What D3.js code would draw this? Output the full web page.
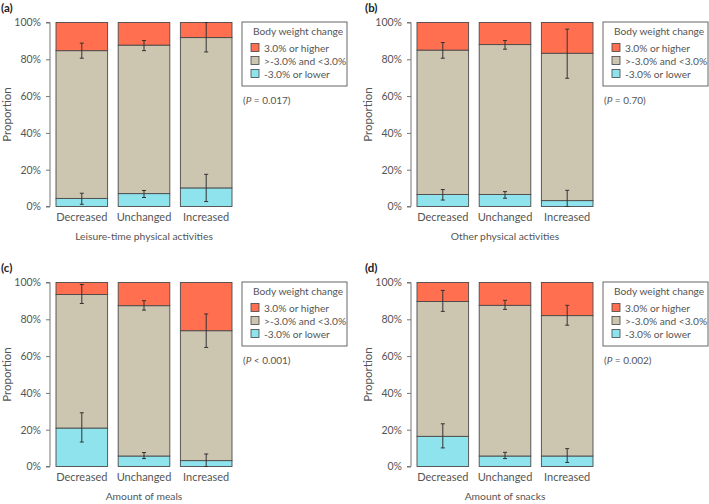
<!DOCTYPE html>
<html>
<head>
<meta charset="utf-8">
<script src="https://cdn.jsdelivr.net/npm/d3@7"></script>
<style>
  html, body { margin: 0; padding: 0; background: #fff; }
  svg { display: block; }
  text { font-family: Lato, "Noto Sans", sans-serif; }
</style>
</head>
<body>
<svg id="chart" width="709" height="504"></svg>
<script>
// ---------- data ----------
const categories = ["Decreased", "Unchanged", "Increased"];
const panelLetters = ["(a)", "(b)", "(c)", "(d)"];
const panelTitles = ["Leisure-time physical activities", "Other physical activities", "Amount of meals", "Amount of snacks"];
const pValues = ["= 0.017", "= 0.70", "< 0.001", "= 0.002"];
const seriesNames = ["-3.0% or lower", ">-3.0% and <3.0%", "3.0% or higher"];
const legendTitle = "Body weight change";
const yTicks = [0, 20, 40, 60, 80, 100];

// share (%) of "-3.0% or lower" per panel, per category
const lowShare = [
  [4.4, 7.0, 10.1],
  [6.5, 6.5, 3.2],
  [20.9, 5.7, 3.2],
  [16.4, 5.7, 5.7]
];
// share (%) of "3.0% or higher"
const highShare = [
  [15.3, 12.3, 8.2],
  [15.0, 12.0, 16.7],
  [6.5, 12.6, 26.2],
  [10.3, 12.4, 18.0]
];
// error bars at top of lowest segment (cumulative %)
const lowErrLo = [[1.2, 4.9, 2.7], [3.5, 4.5, 0], [13.3, 4.3, 0], [10.1, 4.3, 2.2]];
const lowErrHi = [[7.2, 8.7, 17.5], [9.2, 8.1, 8.8], [29.2, 7.6, 6.8], [23.2, 7.7, 9.7]];
// error bars at top of middle segment (cumulative %)
const midErrLo = [[80.6, 84.7, 84.0], [80.6, 85.5, 69.7], [88.6, 85.0, 64.7], [84.3, 85.4, 76.8]];
const midErrHi = [[88.8, 90.2, 100], [89.1, 90.2, 96.4], [98.9, 90.1, 82.9], [95.7, 90.3, 87.6]];

// ---------- style ----------
const colors = ["#8fe3ec", "#ccc5b0", "#ff6f50"];
const textColor = "#555";
const axisColor = "#777";
const FONT = "Lato, 'Noto Sans', sans-serif";

const svg = d3.select("#chart");
const offsets = [[0, 0], [361, 0], [0, 260], [361, 260]];

const x = d3.scaleBand().domain(categories).range([56, 232]).paddingInner(0.17).paddingOuter(0);
const y = d3.scaleLinear().domain([0, 100]).range([206.5, 22.5]);

const stack = d3.stack().keys([0, 1, 2]);

offsets.forEach((off, p) => {
  const g = svg.append("g").attr("transform", `translate(${off[0]},${off[1]})`);

  // panel letter
  g.append("text").attr("x", p % 2 ? 4 : 1).attr("y", 12)
    .attr("font-weight", "bold").attr("font-size", 11.5).attr("fill", "#222")
    .text(panelLetters[p]);

  const rows = categories.map((c, i) => {
    const lo = lowShare[p][i], hi = highShare[p][i];
    return { cat: c, 0: lo, 1: 100 - lo - hi, 2: hi, i };
  });
  const stacked = stack(rows);

  // bars
  stacked.forEach((layer, k) => {
    g.append("g").selectAll("rect").data(layer).join("rect")
      .attr("x", d => x(d.data.cat))
      .attr("width", x.bandwidth())
      .attr("y", d => y(d[1]))
      .attr("height", d => y(d[0]) - y(d[1]))
      .attr("fill", colors[k])
      .attr("stroke", "#4a4a4a")
      .attr("stroke-width", 0.9);
  });

  // error bars
  const errs = [];
  categories.forEach((c, i) => {
    errs.push({ cat: c, lo: lowErrLo[p][i], hi: lowErrHi[p][i] });
    errs.push({ cat: c, lo: midErrLo[p][i], hi: midErrHi[p][i] });
  });
  const eg = g.append("g").attr("stroke", "#333").attr("stroke-width", 1);
  errs.forEach(e => {
    const cx = x(e.cat) + x.bandwidth() / 2;
    eg.append("line").attr("x1", cx).attr("x2", cx).attr("y1", y(e.lo)).attr("y2", y(e.hi));
    eg.append("line").attr("x1", cx - 2).attr("x2", cx + 2).attr("y1", y(e.lo)).attr("y2", y(e.lo));
    eg.append("line").attr("x1", cx - 2).attr("x2", cx + 2).attr("y1", y(e.hi)).attr("y2", y(e.hi));
  });

  // y axis
  const yAxis = d3.axisLeft(y).tickValues(yTicks).tickFormat(d => d + "%").tickSize(4).tickPadding(5);
  const ya = g.append("g").attr("transform", "translate(50,0)").call(yAxis);
  ya.select(".domain").attr("stroke", axisColor).attr("d", `M-4,${y(100)}H0V${y(0)}H-4`);
  ya.selectAll(".tick line").attr("stroke", axisColor);
  ya.selectAll(".tick text").attr("fill", textColor).attr("font-size", 10.5)
    .attr("font-family", FONT);

  // x labels
  const xAxis = d3.axisBottom(x).tickSize(0).tickPadding(7);
  const xa = g.append("g").attr("transform", `translate(0,${y(0)})`).call(xAxis);
  xa.select(".domain").remove();
  xa.selectAll(".tick text").attr("fill", textColor).attr("font-size", 11)
    .attr("font-family", FONT);

  // axis titles
  g.append("text").attr("x", 144).attr("y", 240).attr("text-anchor", "middle")
    .attr("fill", textColor).attr("font-size", 10.3).text(panelTitles[p]);
  g.append("text").attr("transform", `translate(11,${(y(0) + y(100)) / 2}) rotate(-90)`)
    .attr("text-anchor", "middle").attr("fill", textColor).attr("font-size", 11.5)
    .text("Proportion");

  // legend
  const lg = g.append("g").attr("transform", "translate(242,22)");
  lg.append("rect").attr("width", 105).attr("height", 64)
    .attr("fill", "#fff").attr("stroke", "#666").attr("stroke-width", 1);
  lg.append("text").attr("x", 11).attr("y", 13).attr("fill", textColor).attr("font-size", 10.2)
    .text(legendTitle);
  [2, 1, 0].forEach((k, r) => {
    const yy = 26 + r * 13;
    lg.append("rect").attr("x", 9).attr("y", yy - 4.5).attr("width", 8).attr("height", 8)
      .attr("fill", colors[k]).attr("stroke", "#444").attr("stroke-width", 0.8);
    lg.append("text").attr("x", 22).attr("y", yy + 4).attr("fill", textColor).attr("font-size", 10.2)
      .text(seriesNames[k]);
  });

  // P value
  const pt = g.append("text").attr("x", 243).attr("y", 104).attr("fill", textColor).attr("font-size", 10);
  pt.append("tspan").text("(");
  pt.append("tspan").attr("font-style", "italic").text("P");
  pt.append("tspan").text(" " + pValues[p] + ")");
});
</script>
</body>
</html>
